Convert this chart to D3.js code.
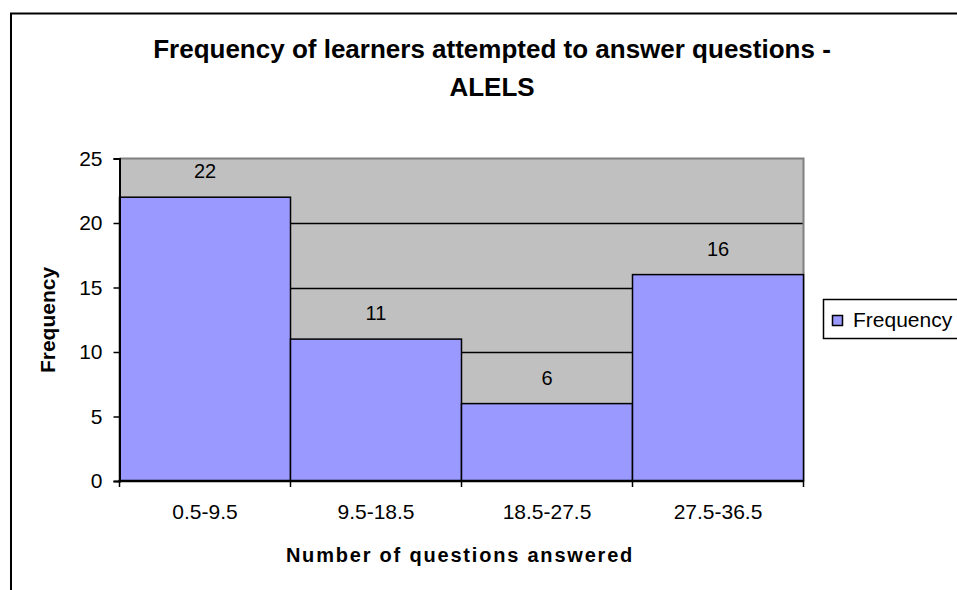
<!DOCTYPE html>
<html>
<head>
<meta charset="utf-8">
<script src="https://cdn.jsdelivr.net/npm/d3@7"></script>
<style>
  html, body { margin: 0; padding: 0; background: #fff; }
  svg { display: block; font-family: "Liberation Sans", Arial, sans-serif; }
</style>
</head>
<body>
<svg id="chart" width="957" height="590"></svg>
<script>
// Histogram data: question-count bins and learner frequencies
const categories = ["0.5-9.5", "9.5-18.5", "18.5-27.5", "27.5-36.5"];
const frequencies = [22, 11, 6, 16];
const yTicks = [0, 5, 10, 15, 20, 25];
const seriesName = "Frequency";

const FONT = "Liberation Sans, Arial, sans-serif";
const svg = d3.select("#chart");

// Outer chart frame
svg.append("rect")
  .attr("x", 11).attr("y", 13.5)
  .attr("width", 1000).attr("height", 700)
  .attr("fill", "#fff").attr("stroke", "#000").attr("stroke-width", 2);

const plot = { left: 119.5, right: 803.5, top: 158.5, bottom: 481 };

const x = d3.scaleBand()
  .domain(categories)
  .range([plot.left, plot.right])
  .paddingInner(0).paddingOuter(0);

const y = d3.scaleLinear()
  .domain([0, 25])
  .range([plot.bottom, plot.top]);

// Plot area background
svg.append("rect")
  .attr("x", plot.left).attr("y", plot.top)
  .attr("width", plot.right - plot.left).attr("height", plot.bottom - plot.top)
  .attr("fill", "#c0c0c0");

// Horizontal gridlines
svg.append("g")
  .selectAll("line")
  .data(yTicks.filter(d => d > 0 && d < 25))
  .join("line")
  .attr("x1", plot.left).attr("x2", plot.right)
  .attr("y1", d => Math.round(y(d)) + 0.5).attr("y2", d => Math.round(y(d)) + 0.5)
  .attr("stroke", "#000").attr("stroke-width", 1.5);

// Plot area border (top and right in grey)
svg.append("path")
  .attr("d", `M${plot.left},${plot.top}H${plot.right}V${plot.bottom}`)
  .attr("fill", "none").attr("stroke", "#808080").attr("stroke-width", 2);

// Bars
svg.append("g")
  .selectAll("rect")
  .data(frequencies)
  .join("rect")
  .attr("x", (d, i) => x(categories[i]))
  .attr("y", d => y(d))
  .attr("width", x.bandwidth())
  .attr("height", d => plot.bottom - y(d))
  .attr("fill", "#9999ff")
  .attr("stroke", "#000").attr("stroke-width", 1.5);

// Value labels
svg.append("g")
  .selectAll("text")
  .data(frequencies)
  .join("text")
  .attr("x", (d, i) => x(categories[i]) + x.bandwidth() / 2)
  .attr("y", d => y(d) - 19)
  .attr("text-anchor", "middle")
  .attr("font-size", 20)
  .attr("fill", "#000")
  .text(d => d);

// Y axis
const yAxis = svg.append("g")
  .attr("transform", `translate(${plot.left},0)`)
  .call(d3.axisLeft(y).tickValues(yTicks).tickSize(6).tickPadding(11).tickFormat(d3.format("d")));
yAxis.select(".domain").attr("stroke", "#000").attr("stroke-width", 2);
yAxis.selectAll(".tick line").attr("stroke", "#000").attr("stroke-width", 1.5);
yAxis.selectAll(".tick text")
  .attr("font-size", 21).attr("font-family", FONT).attr("fill", "#000");

// X axis: labels centred in bins, tick marks on bin edges
const xAxis = svg.append("g")
  .attr("transform", `translate(0,${plot.bottom})`)
  .call(d3.axisBottom(x).tickSize(0).tickPadding(23));
xAxis.select(".domain").remove();
xAxis.selectAll(".tick text")
  .attr("font-size", 21).attr("font-family", FONT).attr("fill", "#000");

const edges = categories.map(c => x(c)).concat([plot.right]);
svg.append("g")
  .selectAll("line")
  .data(edges)
  .join("line")
  .attr("x1", d => d).attr("x2", d => d)
  .attr("y1", plot.bottom).attr("y2", plot.bottom + 6)
  .attr("stroke", "#000").attr("stroke-width", 1.5);

svg.append("line")
  .attr("x1", plot.left - 1).attr("x2", plot.right)
  .attr("y1", plot.bottom).attr("y2", plot.bottom)
  .attr("stroke", "#000").attr("stroke-width", 2.5);

// Title
const title = svg.append("text")
  .attr("text-anchor", "middle")
  .attr("font-size", 26).attr("font-weight", "bold").attr("fill", "#000");
title.append("tspan").attr("x", 492).attr("y", 58)
  .text("Frequency of learners attempted to answer questions -");
title.append("tspan").attr("x", 492).attr("y", 96).text("ALELS");

// Axis titles
svg.append("text")
  .attr("x", 460).attr("y", 562)
  .attr("text-anchor", "middle")
  .attr("font-size", 20).attr("font-weight", "bold").attr("letter-spacing", 1.8)
  .attr("fill", "#000")
  .text("Number of questions answered");

svg.append("text")
  .attr("transform", "translate(55,320) rotate(-90)")
  .attr("text-anchor", "middle")
  .attr("font-size", 21).attr("font-weight", "bold")
  .attr("fill", "#000")
  .text("Frequency");

// Legend
const legend = svg.append("g");
legend.append("rect")
  .attr("x", 823.5).attr("y", 299.5)
  .attr("width", 200).attr("height", 39)
  .attr("fill", "#fff").attr("stroke", "#000").attr("stroke-width", 1.5);
legend.append("rect")
  .attr("x", 832.5).attr("y", 315.5)
  .attr("width", 10).attr("height", 10)
  .attr("fill", "#9999ff").attr("stroke", "#000").attr("stroke-width", 1.5);
legend.append("text")
  .attr("x", 853).attr("y", 327)
  .attr("font-size", 21).attr("fill", "#000")
  .text(seriesName);
</script>
</body>
</html>
